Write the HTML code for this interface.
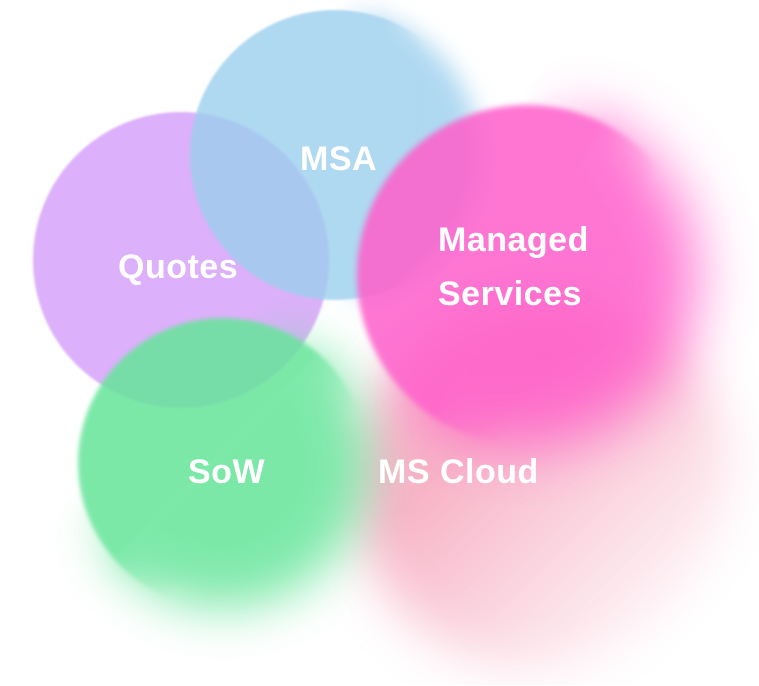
<!DOCTYPE html>
<html><head><style>
html,body{margin:0;padding:0;background:#fff;width:759px;height:686px;overflow:hidden;font-family:"Liberation Sans",sans-serif}
#f{position:relative;width:759px;height:686px;overflow:hidden}
.c{position:absolute;border-radius:50%;left:60px;top:60px}
.t{position:absolute;color:#fff;font-weight:bold;font-size:34px;line-height:54px;letter-spacing:0.5px}
.w{position:absolute}
.g{position:absolute;left:0;top:0;width:100%;height:100%}
</style></head><body><div id="f">
<!-- MS Cloud -->
<div class="w" style="left:295px;top:235px;width:500px;height:450px;opacity:.75;-webkit-mask-image:linear-gradient(135deg,#000 40%,transparent 85%);mask-image:linear-gradient(135deg,#000 40%,transparent 85%)">
<div class="c" style="width:380px;height:380px;background:#f59ab4;filter:blur(25px)"></div></div>
<div class="c" style="left:33px;top:112px;width:296px;height:296px;background:#dcb0fa;filter:blur(1px)"></div>
<!-- MSA -->
<div class="w" style="left:130px;top:-50px;width:410px;height:410px;opacity:.8">
<div class="g" style="-webkit-mask-image:linear-gradient(90deg,transparent 50%,#000 62%);mask-image:linear-gradient(90deg,transparent 50%,#000 62%)"><div class="c" style="width:290px;height:290px;background:#9ccfee;filter:blur(12px)"></div></div>
<div class="g" style="-webkit-mask-image:linear-gradient(90deg,#000 62%,transparent 72%);mask-image:linear-gradient(90deg,#000 62%,transparent 72%)"><div class="c" style="width:290px;height:290px;background:#9ccfee;filter:blur(1px)"></div></div>
</div>
<!-- Managed -->
<div class="w" style="left:297px;top:45px;width:460px;height:460px;opacity:.85">
<div class="g" style="-webkit-mask-image:linear-gradient(120deg,transparent 35%,#000 50%);mask-image:linear-gradient(120deg,transparent 35%,#000 50%)"><div class="c" style="width:340px;height:340px;background:#ff5ecb;filter:blur(30px)"></div></div>
<div class="g" style="-webkit-mask-image:linear-gradient(120deg,#000 48%,transparent 60%);mask-image:linear-gradient(120deg,#000 48%,transparent 60%)"><div class="c" style="width:340px;height:340px;background:#ff5ecb;filter:blur(3px)"></div></div>
</div>
<!-- SoW -->
<div class="w" style="left:18px;top:258px;width:410px;height:410px;opacity:.85">
<div class="g" style="-webkit-mask-image:linear-gradient(135deg,transparent 35%,#000 50%);mask-image:linear-gradient(135deg,transparent 35%,#000 50%)"><div class="c" style="width:290px;height:290px;background:#66e59a;filter:blur(25px)"></div></div>
<div class="g" style="-webkit-mask-image:linear-gradient(135deg,#000 48%,transparent 60%);mask-image:linear-gradient(135deg,#000 48%,transparent 60%)"><div class="c" style="width:290px;height:290px;background:#66e59a;filter:blur(2px)"></div></div>
</div>
<div class="t" style="left:300px;top:132px">MSA</div>
<div class="t" style="left:118px;top:240px">Quotes</div>
<div class="t" style="left:438px;top:213px">Managed<br>Services</div>
<div class="t" style="left:188px;top:445px">SoW</div>
<div class="t" style="left:378px;top:445px">MS Cloud</div>
</div></body></html>
